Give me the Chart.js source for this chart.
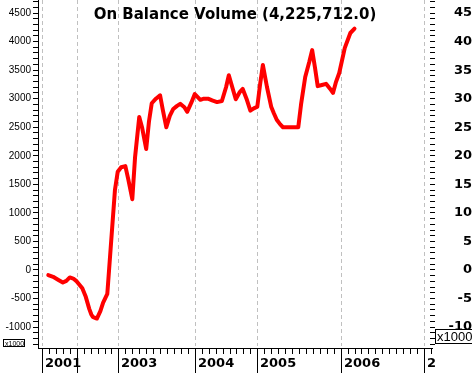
<!DOCTYPE html>
<html>
<head>
<meta charset="utf-8">
<script src="https://cdn.jsdelivr.net/npm/chart.js@4.4.1/dist/chart.umd.min.js"></script>
<style>
html, body { margin: 0; padding: 0; background: #fff; }
</style>
</head>
<body>
<canvas id="obv" width="472" height="373"></canvas>
<script>
// period index (one unit = one minor tick on the time axis) and OBV in thousands
var periods = [0.9, 1.6, 2.3, 3.0, 3.5, 4.0, 4.5, 5.0, 5.8, 6.3,
  6.8, 7.1, 7.3, 7.9, 8.4, 8.8, 9.4, 10.5, 10.9, 11.4,
  12.0, 12.4, 13.0, 13.4, 14.0, 14.4, 15.0, 15.4, 15.8, 16.4,
  17.0, 17.4, 17.9, 18.4, 18.9, 19.4, 19.9, 20.5, 20.9, 21.5,
  22.0, 22.8, 23.3, 23.9, 24.5, 25.2, 25.9, 26.5, 26.9, 27.4,
  27.9, 28.5, 28.9, 29.5, 30.0, 30.5, 31.0, 31.4, 31.8, 32.4,
  33.0, 33.4, 33.8, 34.3, 34.7, 35.7, 36.9, 37.3, 37.9, 38.5,
  38.9, 39.3, 39.7, 40.3, 40.9, 41.5, 41.9, 42.3, 42.8, 43.6,
  44.4, 45.0];
var obv = [-90, -120, -170, -220, -190, -130, -150, -200, -320, -470,
  -680, -780, -820, -850, -720, -570, -420, 1400, 1720, 1800,
  1820, 1600, 1240, 1980, 2680, 2500, 2120, 2600, 2920, 3000,
  3060, 2800, 2500, 2700, 2820, 2870, 2910, 2850, 2770, 2930,
  3080, 2980, 3000, 3000, 2970, 2940, 2960, 3200, 3410, 3200,
  2990, 3120, 3170, 2980, 2790, 2830, 2860, 3250, 3590, 3200,
  2860, 2740, 2630, 2550, 2500, 2500, 2500, 2900, 3380, 3650,
  3850, 3550, 3220, 3240, 3260, 3170, 3100, 3280, 3450, 3890,
  4150, 4226];
var yearStarts = [0, 5, 11, 22, 31, 43, 55];
var yearLabels = ['2001', '', '2003', '2004', '2005', '2006', '2007'];
var titleText = 'On Balance Volume (4,225,712.0)';

var points = periods.map(function (p, i) { return { x: p, y: obv[i] }; });

var timeAxis = {
  id: 'timeAxis',
  beforeDatasetsDraw: function (chart) {
    var ctx = chart.ctx, area = chart.chartArea, xs = chart.scales.x;
    ctx.save();
    ctx.strokeStyle = '#c0c0c0';
    ctx.lineWidth = 1;
    ctx.setLineDash([4, 3]);
    yearStarts.forEach(function (v) {
      var px = Math.round(xs.getPixelForValue(v)) + 0.5;
      ctx.beginPath();
      ctx.moveTo(px, area.top);
      ctx.lineTo(px, area.bottom - 2);
      ctx.stroke();
    });
    ctx.restore();
  },
  afterDraw: function (chart) {
    var ctx = chart.ctx, area = chart.chartArea, xs = chart.scales.x;
    ctx.save();
    ctx.strokeStyle = '#000';
    ctx.lineWidth = 1;
    ctx.beginPath();
    ctx.moveTo(area.left, area.bottom + 0.5);
    ctx.lineTo(area.right + 3, area.bottom + 0.5);
    ctx.stroke();
    for (var i = Math.ceil(xs.min); i <= xs.max + 0.2; i++) {
      var px = Math.round(xs.getPixelForValue(i)) + 0.5;
      var len = yearStarts.indexOf(i) >= 0 ? chart.height - area.bottom : 6;
      ctx.beginPath();
      ctx.moveTo(px, area.bottom);
      ctx.lineTo(px, area.bottom + len);
      ctx.stroke();
    }
    ctx.save();
    ctx.beginPath();
    ctx.rect(0, area.bottom, area.right + 6, chart.height - area.bottom);
    ctx.clip();
    ctx.fillStyle = '#000';
    ctx.font = 'bold 13px "DejaVu Sans"';
    ctx.textAlign = 'left';
    ctx.textBaseline = 'alphabetic';
    yearStarts.forEach(function (v, k) {
      if (!yearLabels[k]) return;
      ctx.fillText(yearLabels[k], Math.round(xs.getPixelForValue(v)) + 3, 367);
    });
    ctx.restore();

    // title
    ctx.fillStyle = '#000';
    ctx.font = 'bold 15px "DejaVu Sans"';
    ctx.textAlign = 'center';
    ctx.fillText(titleText, 235, 19);

    // multiplier boxes
    ctx.fillStyle = '#fff';
    ctx.fillRect(3, 339, 21, 8);
    ctx.strokeRect(3.5, 339.5, 21, 7);
    ctx.fillStyle = '#000';
    ctx.font = '7px "Liberation Sans"';
    ctx.textAlign = 'left';
    ctx.fillText('x1000', 5, 346);

    ctx.fillStyle = '#fff';
    ctx.fillRect(435, 329, 40, 15);
    ctx.strokeRect(435.5, 329.5, 40, 14);
    ctx.fillStyle = '#000';
    ctx.font = '13px "Liberation Sans"';
    ctx.fillText('x1000', 437, 341);
    ctx.restore();
  }
};

function fixWidth(w) {
  return function (scale) {
    scale.width = w;
    scale.paddingTop = 0;
    scale.paddingBottom = 0;
  };
}
function stepTicks(step) {
  return function (scale) {
    var t = [];
    for (var v = Math.ceil(scale.min / step) * step; v <= scale.max; v += step) {
      t.push({ value: Math.round(v * 100) / 100 });
    }
    scale.ticks = t;
  };
}

var chart = new Chart(document.getElementById('obv'), {
  type: 'line',
  data: {
    datasets: [{
      label: 'OBV',
      data: points,
      borderColor: '#ff0000',
      borderWidth: 4,
      borderJoinStyle: 'round',
      borderCapStyle: 'round',
      pointRadius: 0,
      tension: 0,
      fill: false,
      yAxisID: 'y'
    }]
  },
  options: {
    responsive: false,
    animation: false,
    devicePixelRatio: 1,
    layout: { padding: { top: 0, left: 0, right: 0, bottom: 25 } },
    plugins: { legend: { display: false }, tooltip: { enabled: false } },
    scales: {
      x: { type: 'linear', min: -0.58, max: 55.87, bounds: 'data', display: false },
      y: {
        position: 'left',
        min: -1366, max: 4728, bounds: 'data',
        afterBuildTicks: stepTicks(100),
        afterFit: fixWidth(38),
        border: { display: true, color: '#000', width: 1 },
        grid: { drawOnChartArea: false, tickLength: 5, tickColor: '#000' },
        ticks: {
          autoSkip: false, padding: 2,
          color: '#000', font: { family: 'Liberation Sans', size: 10, lineHeight: 0.1 },
          callback: function (v) { return Math.round(v) % 500 === 0 ? String(Math.round(v)) : ''; }
        }
      },
      y2: {
        position: 'right',
        min: -13.66, max: 47.28, bounds: 'data',
        afterBuildTicks: stepTicks(1),
        afterFit: fixWidth(42),
        border: { display: false },
        grid: { drawOnChartArea: false, tickLength: 5, tickColor: '#000' },
        ticks: {
          autoSkip: false, padding: 10, crossAlign: 'far',
          color: '#000', font: { family: 'DejaVu Sans', size: 13, weight: 'bold', lineHeight: 0.1 },
          callback: function (v) { return Math.round(v) % 5 === 0 ? String(Math.round(v)) : ''; }
        }
      }
    }
  },
  plugins: [timeAxis]
});
</script>
</body>
</html>
